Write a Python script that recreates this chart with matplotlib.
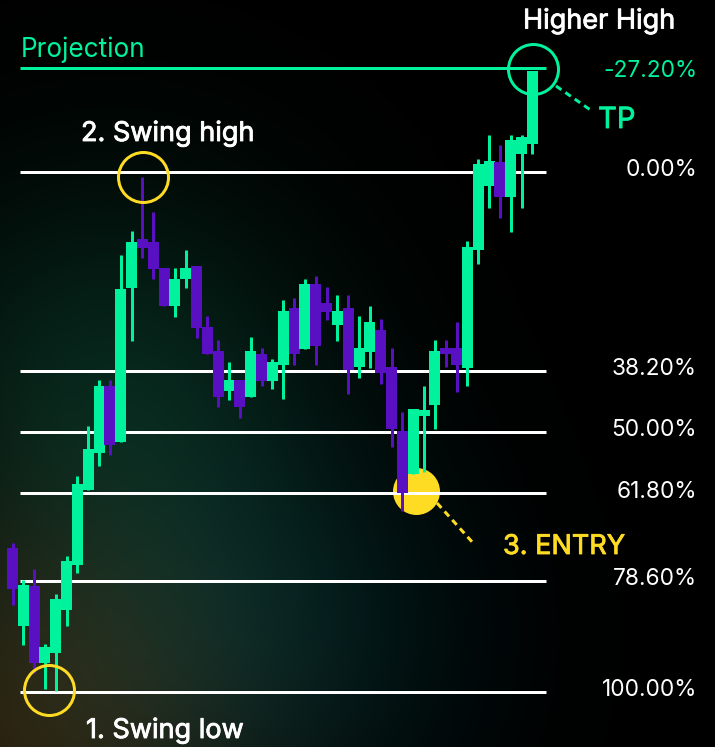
import numpy as np
import matplotlib
matplotlib.use("Agg")
import matplotlib.pyplot as plt
import matplotlib.patheffects as pe

# candle data, price scaled so swing low = 0 and swing high = 100
opens  = [27.7, 12.7, 20.4, 5.6, 7.5, 15.8, 24.4, 38.8, 46.0, 58.8,
          48.1, 77.7, 87.1, 86.5, 81.5, 74.2, 79.4, 81.9, 70.2, 65.6,
          57.9, 60.0, 56.7, 65.0, 59.8, 62.9, 73.8, 66.0, 78.5, 74.8,
          70.6, 73.8, 62.5, 65.4, 69.6, 62.5, 50.2, 41.9, 53.1, 55.2,
          66.2, 66.2, 62.3, 85.0, 97.3, 101.9, 95.2, 103.5, 105.4]
closes = [19.8, 20.6, 5.6, 8.7, 17.9, 25.2, 40.0, 46.7, 58.8, 47.5,
          77.5, 86.5, 85.4, 81.3, 74.2, 79.4, 81.5, 70.0, 65.0, 56.7,
          60.0, 54.8, 65.6, 59.8, 63.5, 73.3, 65.0, 78.5, 66.5, 73.1,
          73.3, 61.9, 66.2, 71.2, 61.3, 50.6, 38.3, 54.4, 54.2, 65.6,
          65.0, 62.9, 85.6, 101.5, 102.1, 95.2, 106.2, 106.7, 119.4]
highs  = [28.7, 21.5, 23.7, 9.2, 18.8, 26.2, 41.5, 51.2, 60.0, 60.0,
          84.0, 88.7, 99.0, 92.3, 81.5, 81.5, 85.0, 81.9, 72.3, 67.7,
          63.5, 60.0, 68.3, 66.2, 64.0, 75.4, 75.8, 79.4, 80.0, 77.9,
          76.3, 76.3, 72.3, 74.2, 71.7, 66.2, 53.8, 54.4, 58.8, 67.7,
          67.7, 71.2, 86.7, 102.5, 107.1, 105.2, 107.1, 107.1, 119.4]
lows   = [16.7, 9.0, 3.7, 0.6, 0.2, 12.7, 22.9, 38.8, 43.5, 45.6,
          48.1, 67.5, 83.5, 79.4, 74.2, 72.1, 77.7, 68.1, 65.0, 54.8,
          56.2, 52.7, 56.7, 58.8, 58.3, 56.3, 62.9, 66.0, 62.9, 71.5,
          67.5, 57.3, 60.4, 62.3, 59.2, 47.1, 34.8, 41.9, 42.3, 50.6,
          62.5, 57.7, 58.8, 82.3, 93.1, 91.2, 88.5, 93.1, 103.5]

fib_levels = [0.0, 38.2, 50.0, 61.8, 78.6, 100.0]
fib_labels = ["0.00%", "38.20%", "50.00%", "61.80%", "78.60%", "100.00%"]
proj_price = 120.0
proj_label = "-27.20%"

GREEN = "#00F29C"
PURPLE = "#5810C2"
YELLOW = "#FFDC24"
WHITE = "#FFFFFF"

W, H, DPI = 715, 747, 100
x0, step = 12.5, 10.833     # pixel of first candle, pixels per candle
y0, yscale = 692.0, 5.2     # pixel of swing low, pixels per price unit


def px(x):
    return (x - x0) / step


def py(y):
    return (y0 - y) / yscale


def lvl(p):
    # fib retracement -> price
    return 100.0 - p


plt.rcParams['font.family'] = ['Inter', 'DejaVu Sans']

fig = plt.figure(figsize=(W / DPI, H / DPI), dpi=DPI)
fig.patch.set_facecolor('black')
ax = fig.add_axes([0, 0, 1, 1])
ax.set_xlim(px(0), px(W))
ax.set_ylim(py(H), py(0))
ax.axis('off')

# glow in the background
yy, xx = np.mgrid[0:H, 0:W]
img = np.zeros((H, W, 3))
blobs = [((110, 390), 150, (0.02, 0.14, 0.10)),
         ((40, 720), 150, (0.17, 0.12, 0.05)),
         ((260, 640), 140, (0.00, 0.10, 0.11))]
for (cx, cy), s, col in blobs:
    g = np.exp(-((xx - cx) ** 2 + (yy - cy) ** 2) / (2 * s ** 2))
    img += g[..., None] * np.array(col)
img = np.clip(img, 0, 1)
ax.imshow(img, extent=[px(0), px(W), py(H), py(0)], aspect='auto', zorder=0)

lw3 = 3 * 72 / DPI   # 3 px in points

# fib lines
for f in fib_levels:
    ax.plot([px(20), px(546)], [lvl(f), lvl(f)], color=WHITE, lw=lw3,
            solid_capstyle='butt', zorder=2)
ax.plot([px(20), px(546)], [proj_price, proj_price], color=GREEN, lw=lw3,
        solid_capstyle='butt', zorder=6)

# entry marker sits behind the candles
ax.plot(px(415.5), lvl(61.8) + 0.5, 'o', ms=47 * 72 / DPI, color=YELLOW,
        mew=0, zorder=1.5)

# candles
idx = np.arange(len(opens))
o = np.array(opens)
c = np.array(closes)
cols = [GREEN if cc >= oo else PURPLE for oo, cc in zip(o, c)]
ax.vlines(idx, lows, highs, colors=cols, lw=lw3, zorder=3)
ax.bar(idx, np.abs(c - o), bottom=np.minimum(o, c), width=11 / step,
       color=cols, linewidth=0, zorder=4)

# ring markers
ring = dict(marker='o', ms=50 * 72 / DPI, mfc='none', mew=lw3, linestyle='none', zorder=7)
ax.plot(px(49), py(690), mec=YELLOW, **ring)
ax.plot(px(143), py(177.5), mec=YELLOW, **ring)
ax.plot(px(532.5), proj_price - 0.2, mec=GREEN, **ring)

# dashed leaders
ax.plot([px(556), px(592)], [py(86), py(111)], color=GREEN, lw=lw3,
        dashes=(2.2, 1.6), zorder=7)
ax.plot([px(437), px(474)], [py(503), py(544)], color=YELLOW, lw=lw3,
        dashes=(2.2, 1.6), zorder=7)

# right side percentages
for f, t in zip(fib_levels, fib_labels):
    ax.text(px(697), lvl(f) + 0.3, t, color=WHITE, fontsize=16.3,
            ha='right', va='center')
ax.text(px(697), py(71.5), proj_label, color=GREEN, fontsize=16.3,
        ha='right', va='center')


# annotations, thin stroke makes them a bit heavier
def label(x, y, s, col, size=19.5):
    ax.text(px(x), py(y), s, color=col, fontsize=size, ha='left', va='baseline',
            path_effects=[pe.withStroke(linewidth=0.6, foreground=col)])


ax.text(px(21), py(57.5), "Projection", color=GREEN, fontsize=18.8,
        ha='left', va='baseline')
label(81, 141, "2. Swing high", WHITE)
label(523, 28.5, "Higher High", WHITE)
label(598, 128, "TP", GREEN, 21)
label(503, 554, "3. ENTRY", YELLOW)
label(86, 738, "1. Swing low", WHITE)

fig.savefig('out.png', dpi=DPI, facecolor='black')
